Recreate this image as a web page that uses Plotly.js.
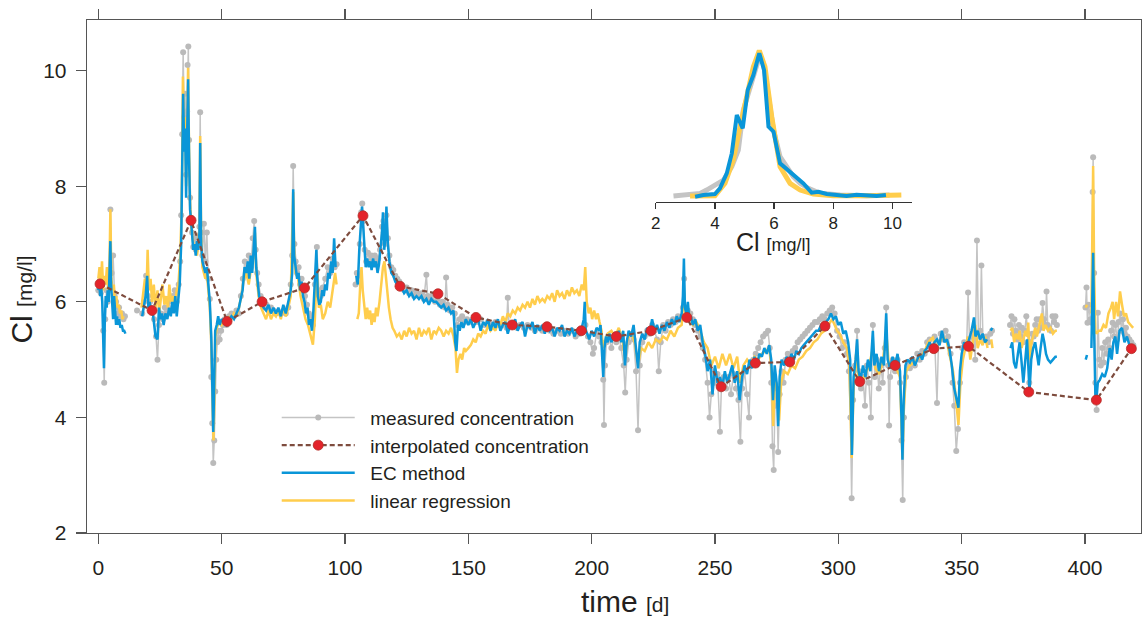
<!DOCTYPE html>
<html>
<head>
<meta charset="utf-8">
<script src="https://cdn.plot.ly/plotly-3.0.1.min.js"></script>
<style>html,body{margin:0;padding:0;background:#fff;}#chart{width:1145px;height:618px;}</style>
</head>
<body>
<div id="chart"></div>
<script>
// ---- measured concentration (grey) ----
const measDay = [
0.0,0.5,1.0,1.5,2.0,2.4,2.8,3.3,3.8,4.3,4.9,5.4,6.0,6.6,7.2,7.8,8.4,9.0,9.6,10.2,10.8,null,15.7,null,
17.8,18.6,19.4,20.2,21.0,21.8,22.6,23.4,24.0,24.6,25.4,26.2,27.0,27.8,28.6,29.4,30.2,31.0,31.8,32.6,
33.2,33.6,34.0,34.4,34.8,35.2,35.6,36.0,36.2,36.5,36.8,37.2,37.6,38.0,38.5,39.0,39.5,40.0,40.6,41.0,
41.3,41.7,42.2,42.8,43.4,44.0,44.6,45.2,45.8,46.2,46.6,47.0,47.4,47.8,48.2,48.6,49.2,49.8,50.5,51.2,
52.0,53.0,54.0,55.0,56.0,
57.0,57.8,58.6,59.4,60.2,61.0,61.8,62.6,63.2,63.8,64.4,65.0,65.8,66.6,67.4,68.2,69.0,70.0,71.0,72.0,
73.0,74.0,75.0,76.0,77.0,78.0,78.6,79.0,79.5,80.0,80.6,81.2,81.8,82.4,83.0,83.8,84.6,85.4,86.2,87.0,
87.8,88.6,89.4,90.2,91.0,92.0,93.0,94.0,95.0,95.8,96.6,null,
104.3,104.8,105.4,106.0,106.6,107.0,107.5,108.0,108.6,109.3,110.0,110.7,111.4,112.1,112.8,113.5,114.2,115.0,115.6,116.2,
116.8,117.4,118.0,118.8,119.6,120.4,121.2,122.0,123.0,124.0,125.0,126.0,127.0,128.0,129.0,130.0,131.0,132.0,133.0,133.5,
134.5,135.5,136.5,137.5,138.5,139.5,140.5,141.0,141.6,142.5,143.5,144.5,145.5,146.5,147.5,148.5,149.5,150.5,152.0,153.5,
155.0,156.5,158.0,159.5,161.0,162.5,164.0,165.5,166.0,166.5,168.0,169.5,171.0,172.5,174.0,175.5,177.0,178.5,180.0,181.5,
183.0,184.5,186.0,187.5,189.0,190.5,192.0,193.5,195.0,196.5,197.5,198.5,199.5,200.5,201.0,202.0,203.0,204.0,204.7,205.0,
205.4,206.0,
207.0,208.0,209.0,210.0,211.0,212.0,213.0,213.6,214.2,215.0,216.0,217.0,218.0,218.8,219.5,220.5,221.5,222.5,223.5,224.5,
225.5,226.5,227.2,228.0,229.0,230.0,231.0,232.0,233.0,234.0,235.0,236.0,237.0,237.5,238.0,239.0,240.0,241.0,242.0,243.0,
244.0,245.0,246.0,247.0,247.8,248.5,249.2,250.0,251.0,252.0,252.6,253.5,254.5,255.5,256.5,257.5,258.5,259.5,260.3,261.0,
262.0,263.0,263.8,264.5,265.5,266.5,267.5,268.5,269.5,270.5,271.5,272.2,272.8,273.3,273.8,274.3,275.0,275.6,276.2,277.0,
277.8,278.6,279.5,280.5,281.5,282.5,283.5,284.5,285.5,286.5,287.5,288.5,289.5,290.5,291.5,292.5,293.5,294.5,295.5,296.5,
297.5,298.5,299.5,300.5,301.5,302.5,303.5,304.3,304.9,305.4,306.0,
306.8,307.6,308.4,309.2,310.0,310.8,311.6,312.4,313.2,314.0,314.8,315.6,316.4,317.2,318.0,318.8,319.4,320.2,320.6,321.0,
322.0,323.0,324.0,325.0,325.6,326.1,326.6,327.4,328.2,329.0,330.0,331.0,332.0,333.0,334.0,335.0,336.0,337.0,338.0,339.0,
340.0,340.6,341.5,342.5,343.5,344.5,345.5,346.3,347.0,347.8,348.5,349.3,350.2,351.0,352.0,352.6,353.3,354.0,354.8,355.5,
356.2,356.8,357.5,358.0,358.6,359.3,360.0,360.8,361.6,362.3,null,
369.6,370.2,370.8,371.4,372.0,372.6,373.2,373.8,374.4,375.0,375.6,376.2,376.8,377.4,378.0,378.6,379.2,379.8,380.4,381.0,
381.6,382.2,382.8,383.4,384.0,384.4,384.9,385.5,386.2,386.8,387.4,388.0,388.6,null,
400.2,400.6,401.0,401.5,402.2,402.8,403.1,403.3,403.7,404.2,404.7,405.2,405.8,406.4,407.0,407.6,408.2,408.8,409.4,410.0,
410.6,411.2,411.8,412.4,413.0,413.6,414.2,414.8,415.4,416.0,416.6,417.2,418.0,418.8,419.6
];
const measCl = [
6.2,6.35,6.15,6.3,5.5,4.6,5.7,6.2,6.0,6.4,7.6,6.5,6.8,6.1,6.0,5.8,5.9,5.75,5.8,5.7,5.75,null,5.85,null,
5.8,6.0,6.45,6.1,6.0,5.85,5.7,5.4,5.0,5.6,5.8,5.7,5.9,5.8,6.0,5.85,6.1,6.2,6.0,6.3,
6.7,7.5,8.9,10.32,9.2,9.6,8.2,9.3,10.1,10.42,8.8,7.8,7.45,7.2,6.95,7.1,6.9,7.15,6.95,7.3,
9.28,7.2,6.8,7.35,6.7,7.2,6.4,6.05,4.7,3.9,3.21,3.6,4.45,5.0,5.3,5.5,5.35,5.5,5.6,5.7,
5.6,5.75,5.8,5.75,5.85,
5.8,6.1,6.4,6.7,6.55,6.8,6.6,7.1,7.4,6.9,6.5,6.3,6.1,6.0,5.9,5.95,5.85,5.9,5.85,5.8,
5.83,5.8,5.85,5.8,5.9,6.3,6.8,8.35,7.0,6.7,6.5,6.6,6.3,6.4,6.2,6.1,5.95,5.8,5.75,5.6,
6.3,6.95,6.2,6.1,6.25,6.4,6.6,6.5,6.75,6.6,6.65,null,
6.3,6.5,6.45,7.0,7.55,7.7,7.4,6.9,6.7,6.85,6.7,6.8,6.65,6.8,6.7,6.75,6.9,7.3,7.4,7.0,
7.5,7.1,6.8,6.6,6.55,6.45,6.4,6.35,6.3,6.2,6.25,6.15,6.2,6.1,6.15,6.1,6.15,6.05,6.47,6.1,
6.05,6.1,6.0,6.05,5.95,6.0,5.9,6.42,5.95,5.85,5.9,5.8,5.6,5.7,5.75,5.65,5.7,5.65,5.7,5.65,
5.7,5.6,5.65,5.6,5.65,5.6,5.6,5.55,6.07,5.6,5.6,5.55,5.6,5.55,5.6,5.55,5.5,5.55,5.5,5.55,
5.5,5.45,5.5,5.45,5.5,5.45,5.5,5.4,5.45,5.5,5.6,5.4,5.3,5.1,5.2,5.45,5.4,5.3,4.65,3.87,
4.9,5.3,
5.4,5.2,5.4,5.3,5.45,5.2,4.9,4.43,5.0,5.3,5.45,5.35,4.8,3.78,4.9,5.3,5.4,5.5,5.45,5.6,
5.5,5.35,4.8,5.3,5.6,5.5,5.65,5.6,5.7,5.65,5.75,5.7,5.9,6.4,5.9,5.85,5.8,5.7,5.6,5.5,
5.4,5.2,5.0,4.6,4.0,4.4,4.8,4.6,4.75,3.75,4.5,4.7,4.5,4.7,4.4,4.75,4.5,4.3,3.58,4.5,
4.8,4.4,4.0,4.9,5.0,5.1,5.2,5.3,5.4,5.45,5.5,5.2,4.6,3.5,3.09,4.2,4.5,3.4,4.4,4.8,
4.6,5.0,5.1,5.05,5.15,5.2,5.3,5.35,5.4,5.45,5.5,5.55,5.6,5.65,5.65,5.7,5.75,5.7,5.8,5.85,
5.9,5.8,5.5,5.4,5.2,5.3,5.1,4.8,4.0,2.6,4.3,
4.9,5.5,4.8,4.5,4.7,4.2,4.9,4.6,4.0,5.6,4.7,5.0,4.5,4.9,4.6,5.2,5.9,4.9,3.86,4.7,
5.0,4.8,5.0,4.6,3.6,2.57,4.0,4.7,4.9,4.85,5.0,4.9,5.1,5.0,5.15,5.1,5.3,5.35,5.2,5.4,
4.25,5.3,5.45,5.35,5.5,5.4,5.1,4.6,4.2,3.42,3.8,4.6,5.2,5.3,5.2,6.16,5.2,5.4,5.5,5.0,
7.06,5.4,5.5,6.63,5.4,5.35,5.4,5.3,5.45,5.5,null,
5.6,5.75,5.45,5.7,5.5,5.35,5.6,5.4,5.55,5.3,5.5,5.75,5.45,4.6,5.3,5.45,5.4,5.6,5.7,5.5,
5.7,5.55,5.98,5.7,5.6,6.18,5.6,5.55,5.5,5.75,5.65,5.75,5.6,null,
5.9,6.25,5.64,5.95,5.7,5.64,7.9,8.5,6.5,4.6,4.13,5.81,5.0,4.9,5.2,4.95,5.3,5.1,5.35,5.2,
5.5,5.64,5.4,5.6,5.35,5.65,5.8,5.5,5.7,5.45,5.55,5.4,5.35,5.3,5.25
];

// ---- interpolated concentration (red dots, dashed) ----
const interpDay = [0.7,21.8,37.6,52.2,66.4,83.6,107.3,122.3,137.7,153.1,167.8,181.9,195.8,210.0,224.1,238.6,252.5,266.4,280.3,294.6,308.7,323.0,338.7,352.8,377.2,404.6,418.8];
const interpCl  = [6.31,5.85,7.41,5.66,6.0,6.24,7.49,6.27,6.14,5.73,5.6,5.57,5.5,5.4,5.5,5.73,4.53,4.94,4.96,5.58,4.62,4.9,5.19,5.23,4.44,4.3,5.19];

// ---- EC method (blue) ----
const ecDay = [
0.0,0.4,0.8,1.2,1.6,2.0,2.3,2.6,3.0,3.4,3.8,4.2,4.6,4.9,5.2,5.6,6.0,6.4,6.8,7.2,7.6,8.0,8.5,9.0,9.5,10.0,10.5,11.0,null,
17.8,18.5,19.2,19.8,20.3,20.8,21.5,22.0,22.6,23.2,24.0,24.6,25.2,25.8,26.5,27.2,28.0,28.7,29.4,30.0,
30.6,31.2,31.8,32.4,33.0,33.6,34.0,34.4,34.8,35.2,35.6,36.0,36.4,36.8,37.2,37.6,38.0,38.5,39.0,39.5,
40.0,40.5,41.0,41.3,41.7,42.2,42.8,43.4,44.0,44.6,45.2,45.8,46.3,46.6,47.0,47.4,48.0,48.6,49.2,50.0,
51.0,52.0,53.0,54.0,55.0,56.0,
57.0,58.5,59.3,60.0,60.6,61.2,61.8,62.4,63.0,63.5,64.0,64.6,65.2,66.0,67.0,68.0,69.0,70.0,71.0,72.0,
73.0,74.0,75.0,76.0,77.0,78.0,78.6,79.0,79.4,80.0,80.6,81.2,81.8,82.4,83.0,83.6,84.2,84.8,85.4,86.0,
86.6,87.2,87.8,88.4,89.0,89.6,90.2,90.8,91.4,92.0,92.6,93.2,93.8,94.4,95.0,95.6,96.2,null,
104.6,105.2,105.8,106.4,106.9,107.4,107.9,108.4,109.0,109.6,110.2,110.8,111.4,112.0,112.6,113.2,113.8,114.4,115.0,115.4,
115.9,116.4,116.8,117.4,118.0,118.8,119.6,120.4,121.2,122.0,123.0,124.0,125.0,126.0,127.0,128.0,129.0,130.0,131.0,132.0,
133.0,134.0,135.0,136.0,137.0,138.0,139.0,140.0,141.0,142.0,143.0,144.0,144.7,145.2,145.8,146.5,147.2,148.0,149.0,150.0,
151.0,152.0,153.0,154.0,155.0,156.0,157.0,158.0,159.0,160.0,161.0,162.0,163.0,164.0,165.0,166.0,167.0,168.0,169.0,170.0,
171.0,172.0,173.0,174.0,175.0,176.0,177.0,178.0,179.0,180.0,181.0,182.0,183.0,184.0,185.0,186.0,187.0,188.0,189.0,190.0,
191.0,192.0,193.0,194.0,195.0,196.0,196.8,197.2,197.6,198.2,199.0,200.0,201.0,202.0,203.0,203.6,204.2,204.7,205.2,205.8,
206.5,207.2,208.0,209.0,210.0,211.0,212.0,212.8,213.5,214.2,215.0,216.0,217.0,218.0,218.8,219.5,220.5,221.5,222.5,223.5,
224.5,225.5,226.5,227.5,228.5,229.5,230.5,231.5,232.5,233.5,234.5,235.5,236.5,237.0,237.4,237.8,238.4,239.0,239.6,240.2,
241.0,242.0,243.0,244.0,245.0,246.0,247.0,248.0,249.0,250.0,251.0,252.0,253.0,254.0,255.0,256.0,257.0,258.0,259.0,260.0,
261.0,262.0,263.0,264.0,265.0,266.0,267.0,268.0,269.0,270.0,271.0,272.0,272.8,273.5,274.2,275.0,275.6,276.2,277.0,278.0,
279.0,280.0,281.0,282.0,283.0,284.0,285.0,286.0,287.0,288.0,289.0,290.0,291.0,292.0,293.0,294.0,295.0,296.0,297.0,298.0,
299.0,300.0,301.0,302.0,303.0,304.0,304.8,305.5,306.2,
307.0,307.6,308.2,309.0,310.0,311.0,312.0,313.0,314.0,314.6,315.5,316.5,317.5,318.5,319.4,320.0,321.0,322.0,323.0,324.0,
325.0,325.6,326.0,326.5,327.2,328.0,329.0,330.0,331.0,332.0,333.0,334.0,335.0,336.0,337.0,338.0,339.0,340.0,341.0,342.0,
343.0,344.0,345.0,346.0,347.0,348.0,348.7,349.3,350.0,351.0,352.0,353.0,354.0,355.0,355.6,356.5,357.5,358.5,359.5,360.3,
null,361.8,362.4,null,
369.8,370.5,371.2,372.0,372.8,373.5,374.2,375.0,375.8,376.5,377.0,377.5,378.2,379.0,379.8,380.5,381.2,382.0,382.8,383.5,
384.2,385.0,386.0,387.0,388.0,388.6,null,
400.3,400.8,null,402.6,403.0,403.3,403.7,404.2,404.6,405.2,406.0,407.0,408.0,409.0,410.0,410.8,411.5,412.3,413.0,414.0,
415.0,416.0,417.0,418.0,419.0,419.8
];
const ecCl = [
6.2,6.3,6.1,6.25,6.0,5.4,4.85,5.6,6.1,5.9,6.2,6.0,6.5,7.05,6.3,6.0,5.7,6.1,5.9,5.6,5.75,5.6,5.7,5.55,5.6,5.5,5.5,5.45,null,
5.75,5.9,6.1,6.45,5.9,6.0,5.8,5.85,5.6,5.4,5.35,5.9,5.7,5.8,5.6,5.8,5.7,5.9,5.75,6.0,
5.8,6.1,5.75,6.0,6.3,7.0,8.0,9.6,8.6,9.0,7.8,8.8,9.85,8.5,7.6,7.4,7.1,6.9,7.0,6.8,
7.05,6.9,7.2,8.75,7.0,6.7,6.6,6.5,6.6,6.3,6.0,5.4,4.5,3.75,4.6,5.5,5.6,5.75,5.6,5.7,
5.65,5.6,5.7,5.75,5.7,5.8,
5.9,6.2,6.6,6.5,6.7,6.4,6.8,6.5,7.0,7.3,6.6,6.3,6.1,6.0,5.9,5.85,5.95,5.8,5.9,5.8,
5.9,5.75,5.95,5.8,6.0,6.2,6.5,7.95,6.8,6.6,6.4,6.5,6.2,6.35,6.1,6.0,5.8,5.9,5.6,5.7,
5.5,5.85,6.4,6.9,6.1,5.95,6.0,6.2,6.1,6.3,6.2,6.5,6.4,6.7,6.5,7.1,6.6,null,
6.45,6.3,6.9,7.3,7.65,7.3,6.9,6.6,6.75,6.6,6.7,6.55,6.75,6.6,6.7,6.5,6.65,6.9,7.2,7.55,
6.9,7.1,7.65,7.0,6.7,6.5,6.45,6.35,6.3,6.25,6.25,6.15,6.2,6.1,6.15,6.05,6.1,6.05,6.1,6.0,
6.05,5.95,6.05,6.0,6.0,5.95,5.9,5.95,5.85,5.9,5.8,5.85,5.3,5.15,5.6,5.5,5.65,5.55,5.7,5.6,
5.7,5.55,5.65,5.7,5.5,5.65,5.6,5.7,5.5,5.65,5.55,5.7,5.5,5.6,5.65,5.45,5.6,5.55,5.7,5.5,
5.6,5.65,5.4,5.6,5.55,5.65,5.45,5.6,5.5,5.6,5.45,5.6,5.5,5.55,5.4,5.55,5.5,5.6,5.4,5.5,
5.45,5.55,5.4,5.5,5.45,5.55,5.7,6.0,5.5,5.45,5.35,5.5,5.4,5.55,5.5,5.6,5.1,4.7,5.2,5.4,
5.3,5.45,5.3,5.45,5.35,5.5,5.3,5.5,4.9,5.3,5.5,5.4,5.6,5.2,4.85,5.3,5.45,5.35,5.55,5.45,
5.7,5.5,5.6,5.45,5.6,5.5,5.65,5.55,5.7,5.6,5.75,5.65,5.8,6.1,6.75,5.9,5.8,6.0,5.7,5.75,
5.6,5.7,5.5,5.6,5.3,5.1,4.8,5.0,4.4,4.9,4.6,4.7,4.55,4.8,4.6,4.75,4.9,4.6,4.8,4.3,
4.7,4.9,4.75,5.0,4.85,5.05,4.9,5.1,5.05,5.2,5.1,5.25,5.0,4.3,4.9,4.6,3.85,4.7,5.0,4.9,
5.05,4.95,5.1,5.0,5.15,5.1,5.2,5.25,5.3,5.35,5.4,5.45,5.5,5.5,5.6,5.6,5.65,5.7,5.8,5.7,
5.75,5.6,5.65,5.45,5.5,5.3,5.0,3.35,4.7,
5.0,5.35,4.8,4.65,4.9,4.7,5.0,4.8,5.5,4.9,5.1,4.8,5.05,4.9,5.8,5.0,4.85,5.05,4.9,5.1,
4.8,4.0,3.27,4.3,4.9,5.0,4.95,5.05,4.9,5.0,5.1,5.0,5.15,5.2,5.3,5.2,5.3,5.35,5.25,5.5,
5.3,5.35,5.2,4.9,4.5,4.3,4.17,4.8,5.1,5.3,5.2,5.35,5.5,5.73,5.4,5.5,5.35,5.45,5.3,5.35,
null,5.5,5.55,null,
5.2,5.3,4.95,4.85,5.1,5.3,5.0,4.6,5.0,5.35,4.9,4.45,5.0,5.2,5.3,5.1,4.9,5.2,5.45,5.3,
5.1,5.0,4.95,5.0,5.05,5.05,null,
5.0,5.08,null,5.2,6.0,6.85,5.5,4.4,4.3,4.6,4.65,4.75,4.7,4.85,5.2,5.0,5.3,5.4,5.1,5.5,
5.55,5.3,5.4,5.25,5.2,5.2
];

// ---- linear regression (yellow) ----
const lrDay = [
0.0,0.5,1.0,1.5,2.0,2.5,3.0,3.5,4.0,4.5,4.9,5.3,5.8,6.3,6.8,7.3,7.8,8.3,8.8,9.3,9.8,10.3,null,
17.5,18.2,18.9,19.5,20.0,20.5,21.2,21.8,22.5,23.2,24.0,24.7,25.4,26.0,26.8,27.5,28.2,28.8,29.5,30.2,
31.0,31.8,32.5,33.2,33.8,34.3,34.8,35.2,35.6,36.0,36.4,36.8,37.2,37.7,38.3,38.8,39.4,40.0,40.6,41.0,
41.3,41.7,42.2,42.8,43.4,44.0,44.6,45.2,45.8,46.3,46.7,47.1,47.5,
48.0,49.0,50.0,51.0,52.0,53.0,54.0,55.0,56.0,57.0,58.0,59.0,60.0,61.0,62.0,63.0,63.5,64.0,65.0,66.0,
67.0,68.0,69.0,70.0,71.0,72.0,73.0,74.0,75.0,76.0,77.0,78.0,79.0,79.5,80.0,81.0,82.0,83.0,84.0,85.0,
86.0,87.0,87.8,88.6,89.4,90.2,91.0,92.0,93.0,94.0,95.0,96.0,96.6,null,
105.0,105.6,106.2,106.7,107.2,107.8,108.4,109.0,109.6,110.2,110.8,111.4,112.0,112.6,113.2,114.0,114.8,115.4,116.0,116.6,
117.2,117.8,118.5,119.3,120.0,121.0,122.0,123.0,124.0,125.0,126.0,127.0,128.0,129.0,130.0,131.0,132.0,133.0,134.0,135.0,
136.0,137.0,138.0,139.0,140.0,141.0,142.0,143.0,144.0,144.8,145.4,146.0,146.8,147.5,148.3,149.0,150.0,151.0,152.0,153.0,
154.0,155.0,156.0,157.0,158.0,159.0,160.0,161.0,162.0,163.0,164.0,165.0,166.0,167.0,168.0,169.0,170.0,171.0,172.0,173.0,
174.0,175.0,176.0,177.0,178.0,179.0,180.0,181.0,182.0,183.0,184.0,185.0,186.0,187.0,188.0,189.0,190.0,191.0,192.0,193.0,
194.0,195.0,196.0,196.8,197.4,198.0,198.8,199.5,200.2,201.0,201.8,202.5,203.2,204.0,204.6,205.2,
206.5,208.0,209.5,211.0,212.5,213.5,214.5,216.0,217.5,218.8,220.0,221.5,223.0,224.5,226.0,227.5,229.0,230.5,232.0,233.5,
235.0,236.5,237.4,238.2,239.5,241.0,242.5,244.0,245.5,247.0,248.5,250.0,251.5,253.0,254.5,256.0,257.5,259.0,260.2,261.5,
263.0,264.5,266.0,267.5,269.0,270.5,272.0,273.0,273.6,274.3,275.2,276.0,276.8,278.0,279.5,281.0,282.5,284.0,285.5,287.0,
288.5,290.0,291.5,293.0,294.5,296.0,297.5,298.5,299.5,300.5,302.0,303.5,304.5,305.4,306.2,
307.2,308.2,309.5,311.0,312.5,314.0,315.0,316.5,318.0,319.4,320.5,322.0,323.5,325.0,325.6,326.0,326.6,327.5,329.0,330.5,
332.0,333.5,335.0,336.5,337.5,338.3,339.5,341.0,342.5,344.0,345.0,346.5,347.5,348.7,349.5,350.5,351.5,352.5,353.5,354.5,
355.5,356.5,357.5,358.5,359.5,360.5,null,362.0,362.5,null,
369.8,370.5,371.3,372.0,372.8,373.5,374.3,375.0,375.8,376.5,377.0,377.6,378.3,379.0,379.8,380.5,381.3,382.0,382.5,383.2,
384.0,385.0,386.0,387.0,388.0,388.6,null,
400.3,400.8,null,402.6,403.0,403.3,403.7,404.2,404.6,405.5,406.5,407.5,408.5,409.5,410.5,411.2,411.8,412.6,413.4,414.2,
415.0,415.8,416.6,417.5,418.5,419.5
];
const lrCl = [
6.4,6.6,6.3,6.7,6.2,6.45,6.3,6.6,6.2,6.5,7.6,6.4,6.2,6.3,6.0,6.1,5.9,5.95,5.8,5.85,5.7,5.75,null,
5.9,6.2,6.4,6.1,6.9,6.2,6.4,6.0,6.3,5.9,6.2,5.8,6.1,6.3,5.95,6.1,5.9,6.3,6.0,6.1,
5.9,6.2,6.3,6.8,7.6,9.9,8.8,9.2,8.0,9.0,10.05,8.6,7.7,7.3,7.0,6.9,7.0,6.8,7.0,7.3,
8.87,7.1,6.6,6.5,6.4,6.5,6.2,5.9,5.3,4.4,3.6,4.5,5.4,
5.55,5.65,5.6,5.7,5.6,5.75,5.7,5.8,5.75,5.9,6.1,6.4,6.5,6.3,6.6,6.8,7.2,6.5,6.1,5.9,
5.8,5.7,5.85,5.7,5.8,5.75,5.85,5.7,5.9,5.75,5.9,6.1,7.9,6.7,6.5,6.4,6.1,5.9,5.7,5.6,
5.4,5.26,5.7,6.6,5.9,5.95,5.7,5.8,6.0,5.9,6.2,6.5,6.3,null,
5.7,5.8,6.3,6.6,6.2,5.9,5.7,5.9,5.7,5.85,5.6,5.8,5.65,5.9,5.75,6.0,6.3,6.6,6.7,6.4,
6.1,5.9,5.7,5.55,5.5,5.4,5.45,5.35,5.5,5.4,5.55,5.45,5.5,5.35,5.55,5.4,5.5,5.45,5.55,5.35,
5.5,5.45,5.55,5.5,5.4,5.5,5.45,5.55,5.4,5.2,4.77,5.0,5.1,5.0,5.2,5.15,5.2,5.25,5.35,5.3,
5.45,5.4,5.5,5.45,5.6,5.5,5.55,5.5,5.65,5.6,5.75,5.65,5.8,5.75,5.85,5.8,5.9,5.85,5.95,5.9,
6.0,5.9,6.05,5.95,6.1,6.0,6.05,6.0,6.1,6.05,6.15,6.0,6.2,6.1,6.15,6.05,6.2,6.1,6.25,6.15,
6.2,6.1,6.3,6.2,6.6,6.0,5.8,5.9,5.7,5.85,5.7,5.8,5.65,5.5,5.2,5.3,
5.45,5.5,5.4,5.55,5.35,5.0,5.35,5.45,5.3,4.9,5.2,5.15,5.3,5.2,5.35,5.3,5.4,5.35,5.5,5.4,
5.55,5.6,6.2,5.7,5.8,5.6,5.65,5.5,5.3,5.2,4.9,5.05,4.85,5.1,4.9,5.1,4.85,5.05,4.6,4.9,
5.0,4.9,5.05,5.0,5.1,5.15,5.2,4.8,3.85,4.7,4.5,3.95,4.6,4.8,4.75,4.9,4.85,5.0,5.05,5.15,
5.2,5.3,5.35,5.45,5.5,5.6,5.7,5.6,5.5,5.45,5.3,5.2,4.9,3.3,4.5,
5.1,4.7,4.6,4.75,4.9,5.2,4.85,4.75,4.95,5.5,4.9,4.95,4.85,4.7,3.9,3.3,4.2,4.8,4.9,4.95,
5.0,5.05,5.15,5.3,5.35,5.38,5.2,5.3,5.4,5.3,5.1,4.8,4.4,3.87,4.6,5.0,5.2,5.4,5.0,5.3,
5.6,5.2,5.35,5.25,5.4,5.2,null,5.35,5.2,null,
5.5,5.55,5.3,5.45,5.35,5.5,5.2,5.35,5.5,5.4,5.64,5.0,5.3,5.4,5.55,5.4,5.6,5.7,5.8,5.5,
5.6,5.5,5.55,5.45,5.5,5.5,null,
5.9,5.95,null,5.8,7.0,8.35,6.5,5.5,5.45,5.5,5.5,5.6,5.55,5.8,5.9,6.0,5.7,6.0,5.75,6.18,
5.95,5.75,5.8,5.65,5.6,5.55
];

// ---- inset: distributions of Cl ----
const densMeasX = [2.6,3.05,3.5,3.72,4.0,4.29,4.57,4.79,4.96,5.19,5.36,5.5,5.64,5.81,5.98,6.2,6.43,6.65,6.88,7.16,7.55,8.23,9.13,9.9];
const densMeasY = [0.004,0.014,0.02,0.04,0.07,0.1,0.18,0.28,0.52,0.66,0.74,0.84,0.8,0.6,0.4,0.24,0.18,0.12,0.08,0.05,0.02,0.01,0.006,0.01];
const densLrX = [3.16,4.0,4.34,4.62,4.85,5.07,5.3,5.5,5.69,5.92,6.2,6.54,6.88,7.33,8.0,9.13,10.3];
const densLrY = [0.004,0.006,0.08,0.22,0.42,0.6,0.78,0.876,0.78,0.48,0.18,0.08,0.04,0.016,0.006,0.006,0.01];
const densEcX = [3.33,3.61,4.0,4.17,4.4,4.57,4.74,4.94,5.11,5.3,5.5,5.66,5.81,5.98,6.2,6.48,6.76,6.99,7.27,7.5,7.78,8.06,8.45,8.79,9.13,9.47,9.78];
const densEcY = [0,0.01,0.016,0.05,0.14,0.26,0.49,0.41,0.64,0.73,0.86,0.76,0.42,0.39,0.2,0.16,0.12,0.08,0.024,0.03,0.016,0.012,0.004,0.012,0.006,0.004,0.01];

const mainTicks = [0,50,100,150,200,250,300,350,400];
const yTicks = [2,4,6,8,10];
const insetTicks = [2,4,6,8,10];

const BLUE = '#0a96d8', YELLOW = '#ffcd4c', GREY = '#c4c4c4', GREYDOT = '#bababa', BROWN = '#7e4c3e', RED = '#e3242b';
const FONT = 'Liberation Sans, Arial, sans-serif';
const TXT = '#231f20';
const PAD = '\u00a0\u00a0';

const traces = [
  {x: measDay, y: measCl, type: 'scatter', mode: 'lines+markers', name: PAD + 'measured concentration',
   line: {color: GREY, width: 1.5}, marker: {color: GREYDOT, size: 6}, connectgaps: false, legendrank: 1},
  {x: lrDay, y: lrCl, type: 'scatter', mode: 'lines', name: PAD + 'linear regression',
   line: {color: YELLOW, width: 2.5}, connectgaps: false, legendrank: 4},
  {x: ecDay, y: ecCl, type: 'scatter', mode: 'lines', name: PAD + 'EC method',
   line: {color: BLUE, width: 2.5}, connectgaps: false, legendrank: 3},
  {x: interpDay, y: interpCl, type: 'scatter', mode: 'lines+markers', name: PAD + 'interpolated concentration',
   line: {color: BROWN, width: 2.2, dash: '5px,3px'}, marker: {color: RED, size: 10, line: {color: '#b3312b', width: 0.8}}, legendrank: 2},
  {x: densMeasX, y: densMeasY, xaxis: 'x2', yaxis: 'y2', type: 'scatter', mode: 'lines', showlegend: false,
   line: {color: GREY, width: 5}},
  {x: densLrX, y: densLrY, xaxis: 'x2', yaxis: 'y2', type: 'scatter', mode: 'lines', showlegend: false,
   line: {color: YELLOW, width: 5}},
  {x: densEcX, y: densEcY, xaxis: 'x2', yaxis: 'y2', type: 'scatter', mode: 'lines', showlegend: false,
   line: {color: BLUE, width: 4}}
];

const axisCommon = {
  showgrid: false, zeroline: false, showline: true, linecolor: '#555', linewidth: 1.3,
  ticks: 'outside', ticklen: 10, tickwidth: 1.3, tickcolor: '#555',
  tickfont: {family: FONT, size: 21, color: TXT}
};

const layout = {
  width: 1145, height: 618,
  margin: {l: 87, r: 4, t: 20, b: 85},
  paper_bgcolor: '#fff', plot_bgcolor: '#fff',
  font: {family: FONT, color: TXT},
  showlegend: true,
  legend: {x: 0.18, y: 0.262, xanchor: 'left', yanchor: 'top', bgcolor: 'rgba(0,0,0,0)',
           font: {family: FONT, size: 19, color: TXT}, itemwidth: 73, tracegroupgap: 0},
  xaxis: Object.assign({}, axisCommon, {range: [-4.58, 422.7], tickvals: mainTicks, ticktext: mainTicks.map(String),
          mirror: 'allticks', ticklabelstandoff: 5}),
  yaxis: Object.assign({}, axisCommon, {range: [2, 10.877], tickvals: yTicks, ticktext: yTicks.map(String),
          mirror: true, ticklabelstandoff: 5}),
  xaxis2: {domain: [0.5396, 0.7830], anchor: 'y2', range: [2, 10.67], tickvals: insetTicks, ticktext: insetTicks.map(String),
           showgrid: false, zeroline: false, showline: true, linecolor: '#333', linewidth: 1.2,
           ticks: 'outside', ticklen: 6, tickwidth: 1.2, tickcolor: '#333',
           tickfont: {family: FONT, size: 17, color: TXT}},
  yaxis2: {domain: [0.6458, 0.948], anchor: 'x2', range: [-0.03, 0.9], visible: false, showgrid: false, zeroline: false},
  annotations: [
    {xref: 'paper', yref: 'paper', x: -0.0617, y: 0.455, xanchor: 'center', yanchor: 'middle', showarrow: false, textangle: -90,
     text: 'Cl <span style="font-size:21px">[mg/l]</span>', font: {family: FONT, size: 30, color: TXT}},
    {xref: 'paper', yref: 'paper', x: 0.5104, y: -0.1345, xanchor: 'center', yanchor: 'middle', showarrow: false,
     text: 'time <span style="font-size:21px">[d]</span>', font: {family: FONT, size: 30, color: TXT}},
    {xref: 'paper', yref: 'paper', x: 0.6509, y: 0.5673, xanchor: 'center', yanchor: 'middle', showarrow: false,
     text: 'Cl <span style="font-size:18px">[mg/l]</span>', font: {family: FONT, size: 25, color: TXT}}
  ]
};

Plotly.newPlot('chart', traces, layout, {staticPlot: true, displayModeBar: false});
</script>
</body>
</html>
